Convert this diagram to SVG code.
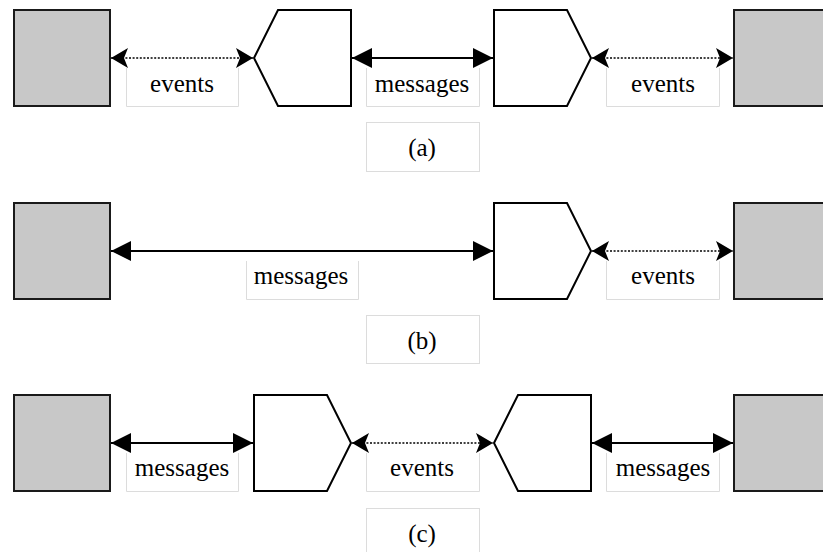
<svg xmlns="http://www.w3.org/2000/svg" width="823" height="552" viewBox="0 0 823 552">
  <style>
    .box { fill: #c8c8c8; stroke: #1a1a1a; stroke-width: 2; }
    .proc { fill: #ffffff; stroke: #000000; stroke-width: 2; stroke-linejoin: miter; }
    .msg { stroke: #000000; stroke-width: 2; fill: none; marker-start: url(#tri); marker-end: url(#tri); }
    .evt { stroke: #000000; stroke-width: 1.6; stroke-dasharray: 2 1.6; fill: none; marker-start: url(#barb); marker-end: url(#barb); }
    .lbl { fill: #ffffff; stroke: #dcdcdc; stroke-width: 1; }
    .cap { fill: #ffffff; stroke: #dcdcdc; stroke-width: 1; }
    text { font-family: "Liberation Serif", "Times New Roman", serif; font-size: 25px; fill: #000000; text-anchor: middle; }
  </style>
  <defs>
    <marker id="tri" markerUnits="userSpaceOnUse" viewBox="0 0 20 20" markerWidth="20" markerHeight="20" refX="20" refY="10" orient="auto-start-reverse">
      <path d="M0,0 L20,10 L0,20 Z" fill="#000000" stroke="none"/>
    </marker>
    <marker id="barb" markerUnits="userSpaceOnUse" viewBox="0 0 17 20" markerWidth="17" markerHeight="20" refX="17" refY="10" orient="auto-start-reverse">
      <path d="M0,0 L17,10 L0,20 L4,10 Z" fill="#000000" stroke="none"/>
    </marker>
  </defs>

  <!-- label backgrounds (open at the top, under the connector) -->
  <g id="labels">
    <path class="lbl" d="M126.5,68 V106.5 H238.5 V68"/>
    <path class="lbl" d="M366.5,68 V106.5 H479.5 V68"/>
    <path class="lbl" d="M606.5,68 V106.5 H719.5 V68"/>
    <path class="lbl" d="M246.5,261 V299.5 H358.5 V261"/>
    <path class="lbl" d="M606.5,261 V299.5 H719.5 V261"/>
    <path class="lbl" d="M126.5,453 V491.5 H238.5 V453"/>
    <path class="lbl" d="M366.5,453 V491.5 H479.5 V453"/>
    <path class="lbl" d="M606.5,453 V491.5 H719.5 V453"/>
    <text x="182" y="92">events</text>
    <text x="422" y="92">messages</text>
    <text x="663" y="92">events</text>
    <text x="301" y="284">messages</text>
    <text x="663" y="284">events</text>
    <text x="182" y="476">messages</text>
    <text x="422" y="476">events</text>
    <text x="663" y="476">messages</text>
  </g>

  <!-- row (a) -->
  <g id="a-left"><rect class="box" x="14" y="10" width="96" height="96"/></g>
  <g id="a-proc1"><path class="proc" d="M254,58 L278,10 L351,10 L351,106 L278,106 Z"/></g>
  <g id="a-proc2"><path class="proc" d="M494,10 L567,10 L591,58 L567,106 L494,106 Z"/></g>
  <g id="a-right"><rect class="box" x="734" y="10" width="100" height="96"/></g>
  <g id="caption-a"><rect class="cap" x="366.5" y="122.5" width="113" height="49"/><text x="422" y="156">(a)</text></g>

  <!-- row (b) -->
  <g id="b-left"><rect class="box" x="14" y="203" width="96" height="96"/></g>
  <g id="b-proc"><path class="proc" d="M494,203 L567,203 L591,251 L567,299 L494,299 Z"/></g>
  <g id="b-right"><rect class="box" x="734" y="203" width="100" height="96"/></g>
  <g id="caption-b"><rect class="cap" x="366.5" y="315.5" width="113" height="48"/><text x="422" y="349">(b)</text></g>

  <!-- row (c) -->
  <g id="c-left"><rect class="box" x="14" y="395" width="96" height="96"/></g>
  <g id="c-proc1"><path class="proc" d="M254,395 L327,395 L351,443 L327,491 L254,491 Z"/></g>
  <g id="c-proc2"><path class="proc" d="M494,443 L518,395 L591,395 L591,491 L518,491 Z"/></g>
  <g id="c-right"><rect class="box" x="734" y="395" width="100" height="96"/></g>
  <g id="caption-c"><rect class="cap" x="366.5" y="508.5" width="113" height="50"/><text x="422" y="542">(c)</text></g>

  <!-- connectors -->
  <g id="connectors">
    <line class="evt" x1="111" y1="58" x2="253" y2="58"/>
    <line class="msg" x1="352" y1="58" x2="493" y2="58"/>
    <line class="evt" x1="592" y1="58" x2="733" y2="58"/>
    <line class="msg" x1="111" y1="251" x2="493" y2="251"/>
    <line class="evt" x1="592" y1="251" x2="733" y2="251"/>
    <line class="msg" x1="111" y1="443" x2="253" y2="443"/>
    <line class="evt" x1="352" y1="443" x2="493" y2="443"/>
    <line class="msg" x1="592" y1="443" x2="733" y2="443"/>
  </g>
</svg>
